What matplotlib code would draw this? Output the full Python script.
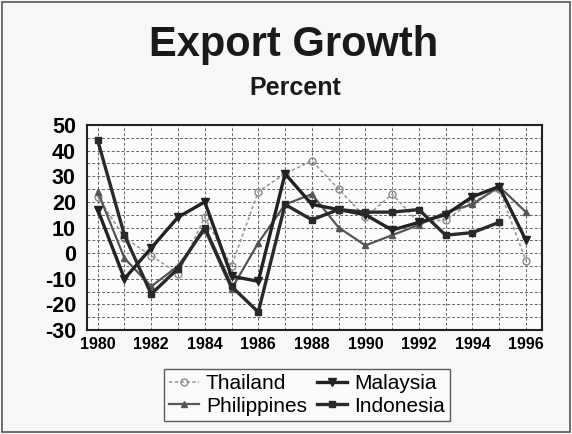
import numpy as np
import matplotlib.pyplot as plt
from matplotlib.ticker import MultipleLocator

plt.rcParams['font.family'] = ['Liberation Sans', 'DejaVu Sans']
plt.rcParams['axes.unicode_minus'] = False

years = np.arange(1980, 1997)
thailand = [22, 6, -1, -8, 14, -5, 24, 31, 36, 25, 14, 23, 12, 13, 20, 25, -3]
malaysia = [17, -10, 2, 14, 20, -9, -11, 31, 19, 17, 15, 9, 12, 15, 22, 26, 5]
philippines = [24, -2, -13, -5, 9, -14, 4, 19, 23, 10, 3, 7, 11, 16, 19, 26, 16]
indonesia = [44, 7, -16, -6, 10, -13, -23, 19, 13, 17, 16, 16, 17, 7, 8, 12, np.nan]

fig = plt.figure(figsize=(5.72, 4.34), dpi=100, facecolor='#f7f7f5')
ax = fig.add_axes([87/572, 1 - 330/434, 455/572, 205/434])
ax.set_facecolor('#fbfbfa')

ax.plot(years, thailand, color='#9a9a9a', lw=1.2, ls=(0, (2, 1.5)), marker='o',
        ms=5, mfc='none', mec='#8a8a8a', label='Thailand')
ax.plot(years, philippines, color='#555555', lw=1.6, marker='^', ms=5,
        mfc='#555555', mec='#555555', label='Philippines')
ax.plot(years, malaysia, color='#222222', lw=2.4, marker='v', ms=6,
        label='Malaysia')
ax.plot(years, indonesia, color='#2a2a2a', lw=2.4, marker='s', ms=5,
        label='Indonesia')

ax.set_xlim(1979.6, 1996.6)
ax.set_ylim(-30, 50)
ax.set_xticks(np.arange(1980, 1997, 2))
ax.xaxis.set_minor_locator(MultipleLocator(1))
ax.yaxis.set_major_locator(MultipleLocator(10))
ax.yaxis.set_minor_locator(MultipleLocator(5))
ax.grid(True, which='both', color='#666666', lw=0.7, ls=(0, (3, 2)))
ax.tick_params(which='both', length=0)
ax.tick_params(axis='y', labelsize=15.5, pad=8)
ax.tick_params(axis='x', labelsize=11.5, pad=5)
for lab in ax.get_xticklabels() + ax.get_yticklabels():
    lab.set_fontweight('bold')
for s in ax.spines.values():
    s.set_linewidth(1.5)
    s.set_color('#222222')

fig.text(294/572, 1 - 45/434, 'Export Growth', ha='center', va='center',
         fontsize=30, fontweight='bold', color='#1a1a1a')
fig.text(295/572, 1 - 88/434, 'Percent', ha='center', va='center',
         fontsize=18, fontweight='bold', color='#1a1a1a')

handles, labels = ax.get_legend_handles_labels()
leg = fig.legend(handles, labels,
                 ncol=2, loc='center', bbox_to_anchor=(307/572, 1 - 395/434),
                 fontsize=15, frameon=True, fancybox=False, edgecolor='#333333',
                 handlelength=1.4, handletextpad=0.35, columnspacing=0.5,
                 labelspacing=0.15, borderpad=0.25)
leg.get_frame().set_linewidth(1.0)
leg.get_frame().set_facecolor('#fbfbfa')

# thin frame around the whole chart
fig.patches.append(plt.Rectangle((0.004, 0.004), 0.992, 0.992, transform=fig.transFigure,
                                 fill=False, lw=1.2, ec='#555555'))

fig.savefig('out.png', dpi=100, facecolor=fig.get_facecolor())
